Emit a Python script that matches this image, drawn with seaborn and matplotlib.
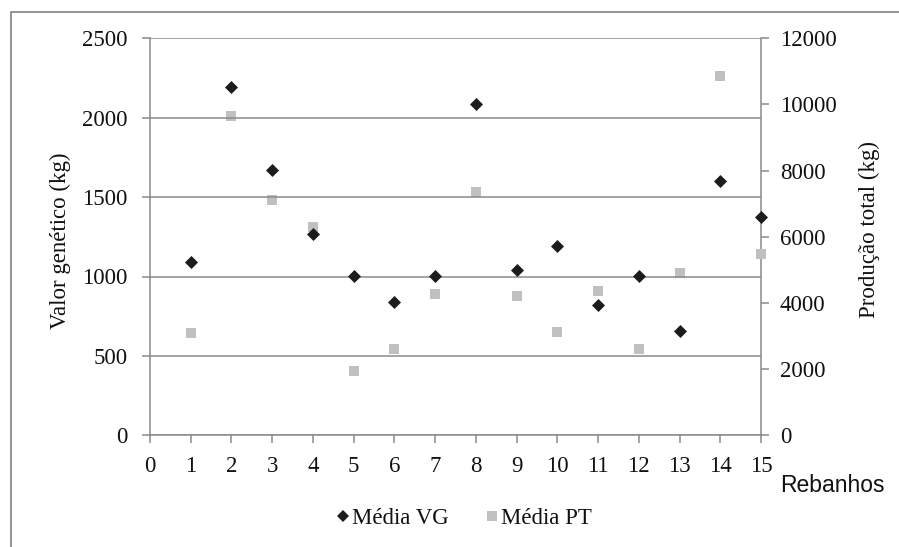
# gráfico de dispersão com dois eixos: valor genético e produção total por rebanho

import pandas as pd
import seaborn as sns
import matplotlib.pyplot as plt
from matplotlib.lines import Line2D

# dados
rebanhos = [1, 2, 3, 4, 5, 6, 7, 8, 9, 10, 11, 12, 13, 14, 15]
media_vg = [1089, 2191, 1669, 1268, 1005, 839, 1005, 2084, 1041, 1194, 820, 1005, 659, 1599, 1373]
media_pt = [3083, 9661, 7112, 6305, 1944, 2609, 4271, 7345, 4220, 3122, 4371, 2618, 4915, 10870, 5480]

df = pd.DataFrame({'rebanho': rebanhos, 'vg': media_vg, 'pt': media_pt})

sns.set_theme(style='white')
plt.rcParams['font.family'] = ['Liberation Serif', 'DejaVu Serif']
plt.rcParams['text.color'] = '#111111'
plt.rcParams['xtick.color'] = '#8a8a8a'
plt.rcParams['ytick.color'] = '#8a8a8a'
plt.rcParams['xtick.labelcolor'] = '#111111'
plt.rcParams['ytick.labelcolor'] = '#111111'

cinza = '#8a8a8a'
cor_vg = '#1c1c1c'
cor_pt = '#c0c0c0'

fig = plt.figure(figsize=(8.99, 5.47), dpi=100)
ax = fig.add_axes([150 / 899, (547 - 435.3) / 547, 611 / 899, 397 / 547])
ax2 = ax.twinx()

# pontos da média PT (eixo direito) e da média VG (eixo esquerdo)
sns.scatterplot(data=df, x='rebanho', y='pt', ax=ax2, marker='s', s=58,
                color=cor_pt, linewidth=0, clip_on=False, zorder=3)
sns.scatterplot(data=df, x='rebanho', y='vg', ax=ax, marker='D', s=44,
                color=cor_vg, linewidth=0, clip_on=False, zorder=4)
ax.set_zorder(ax2.get_zorder() + 1)
ax.patch.set_visible(False)

# eixos
ax.set_xlim(0, 15)
ax.set_ylim(0, 2500)
ax2.set_ylim(0, 12000)
ax.set_xticks(range(0, 16))
ax.set_yticks(range(0, 2501, 500))
ax2.set_yticks(range(0, 12001, 2000))

ax.yaxis.grid(True, color=cinza, linewidth=1.1)
ax.set_axisbelow(True)

for a in (ax, ax2):
    for lado in ['top', 'left', 'right', 'bottom']:
        a.spines[lado].set_visible(False)
ax.spines['left'].set_visible(True)
ax.spines['bottom'].set_visible(True)
ax2.spines['right'].set_visible(True)
for sp in (ax.spines['left'], ax.spines['bottom'], ax2.spines['right']):
    sp.set_color(cinza)
    sp.set_linewidth(1.1)

ax.tick_params(axis='y', length=6, width=1.1, pad=10, labelsize=16.5, left=True)
ax.tick_params(axis='x', length=6, width=1.1, pad=9, labelsize=16.5, bottom=True)
ax2.tick_params(axis='y', length=6, width=1.1, pad=7.5, labelsize=16.5, right=True)

ax.set_xlabel('')
ax.set_ylabel('')
ax2.set_ylabel('')

fig.text(60 / 899, 1 - 241 / 547, 'Valor genético (kg)', rotation=90,
         ha='center', va='center', fontsize=16.5)
fig.text(869 / 899, 1 - 230 / 547, 'Produção total (kg)', rotation=90,
         ha='center', va='center', fontsize=16.5)
fig.text(780 / 899, 1 - 485 / 547, 'Rebanhos', ha='left', va='center',
         fontsize=16.5, family=['Liberation Sans', 'DejaVu Sans'])

# legenda
for a in (ax, ax2):
    if a.get_legend() is not None:
        a.get_legend().remove()
handles = [
    Line2D([], [], marker='D', linestyle='none', color=cor_vg, markersize=6.3, markeredgewidth=0),
    Line2D([], [], marker='s', linestyle='none', color=cor_pt, markersize=7.5, markeredgewidth=0),
]
fig.legend(handles, ['Média VG', 'Média PT'], loc='center', ncol=2,
           bbox_to_anchor=(464 / 899, 1 - 518 / 547), frameon=False,
           fontsize=16.5, handlelength=0.6, handletextpad=0.1, columnspacing=1.6)

# moldura externa
fig.add_artist(Line2D([11 / 899, 11 / 899, 1], [0, 1 - 12 / 547, 1 - 12 / 547],
                      transform=fig.transFigure, color=cinza, linewidth=1.3))

plt.savefig('out.png', dpi=100)
